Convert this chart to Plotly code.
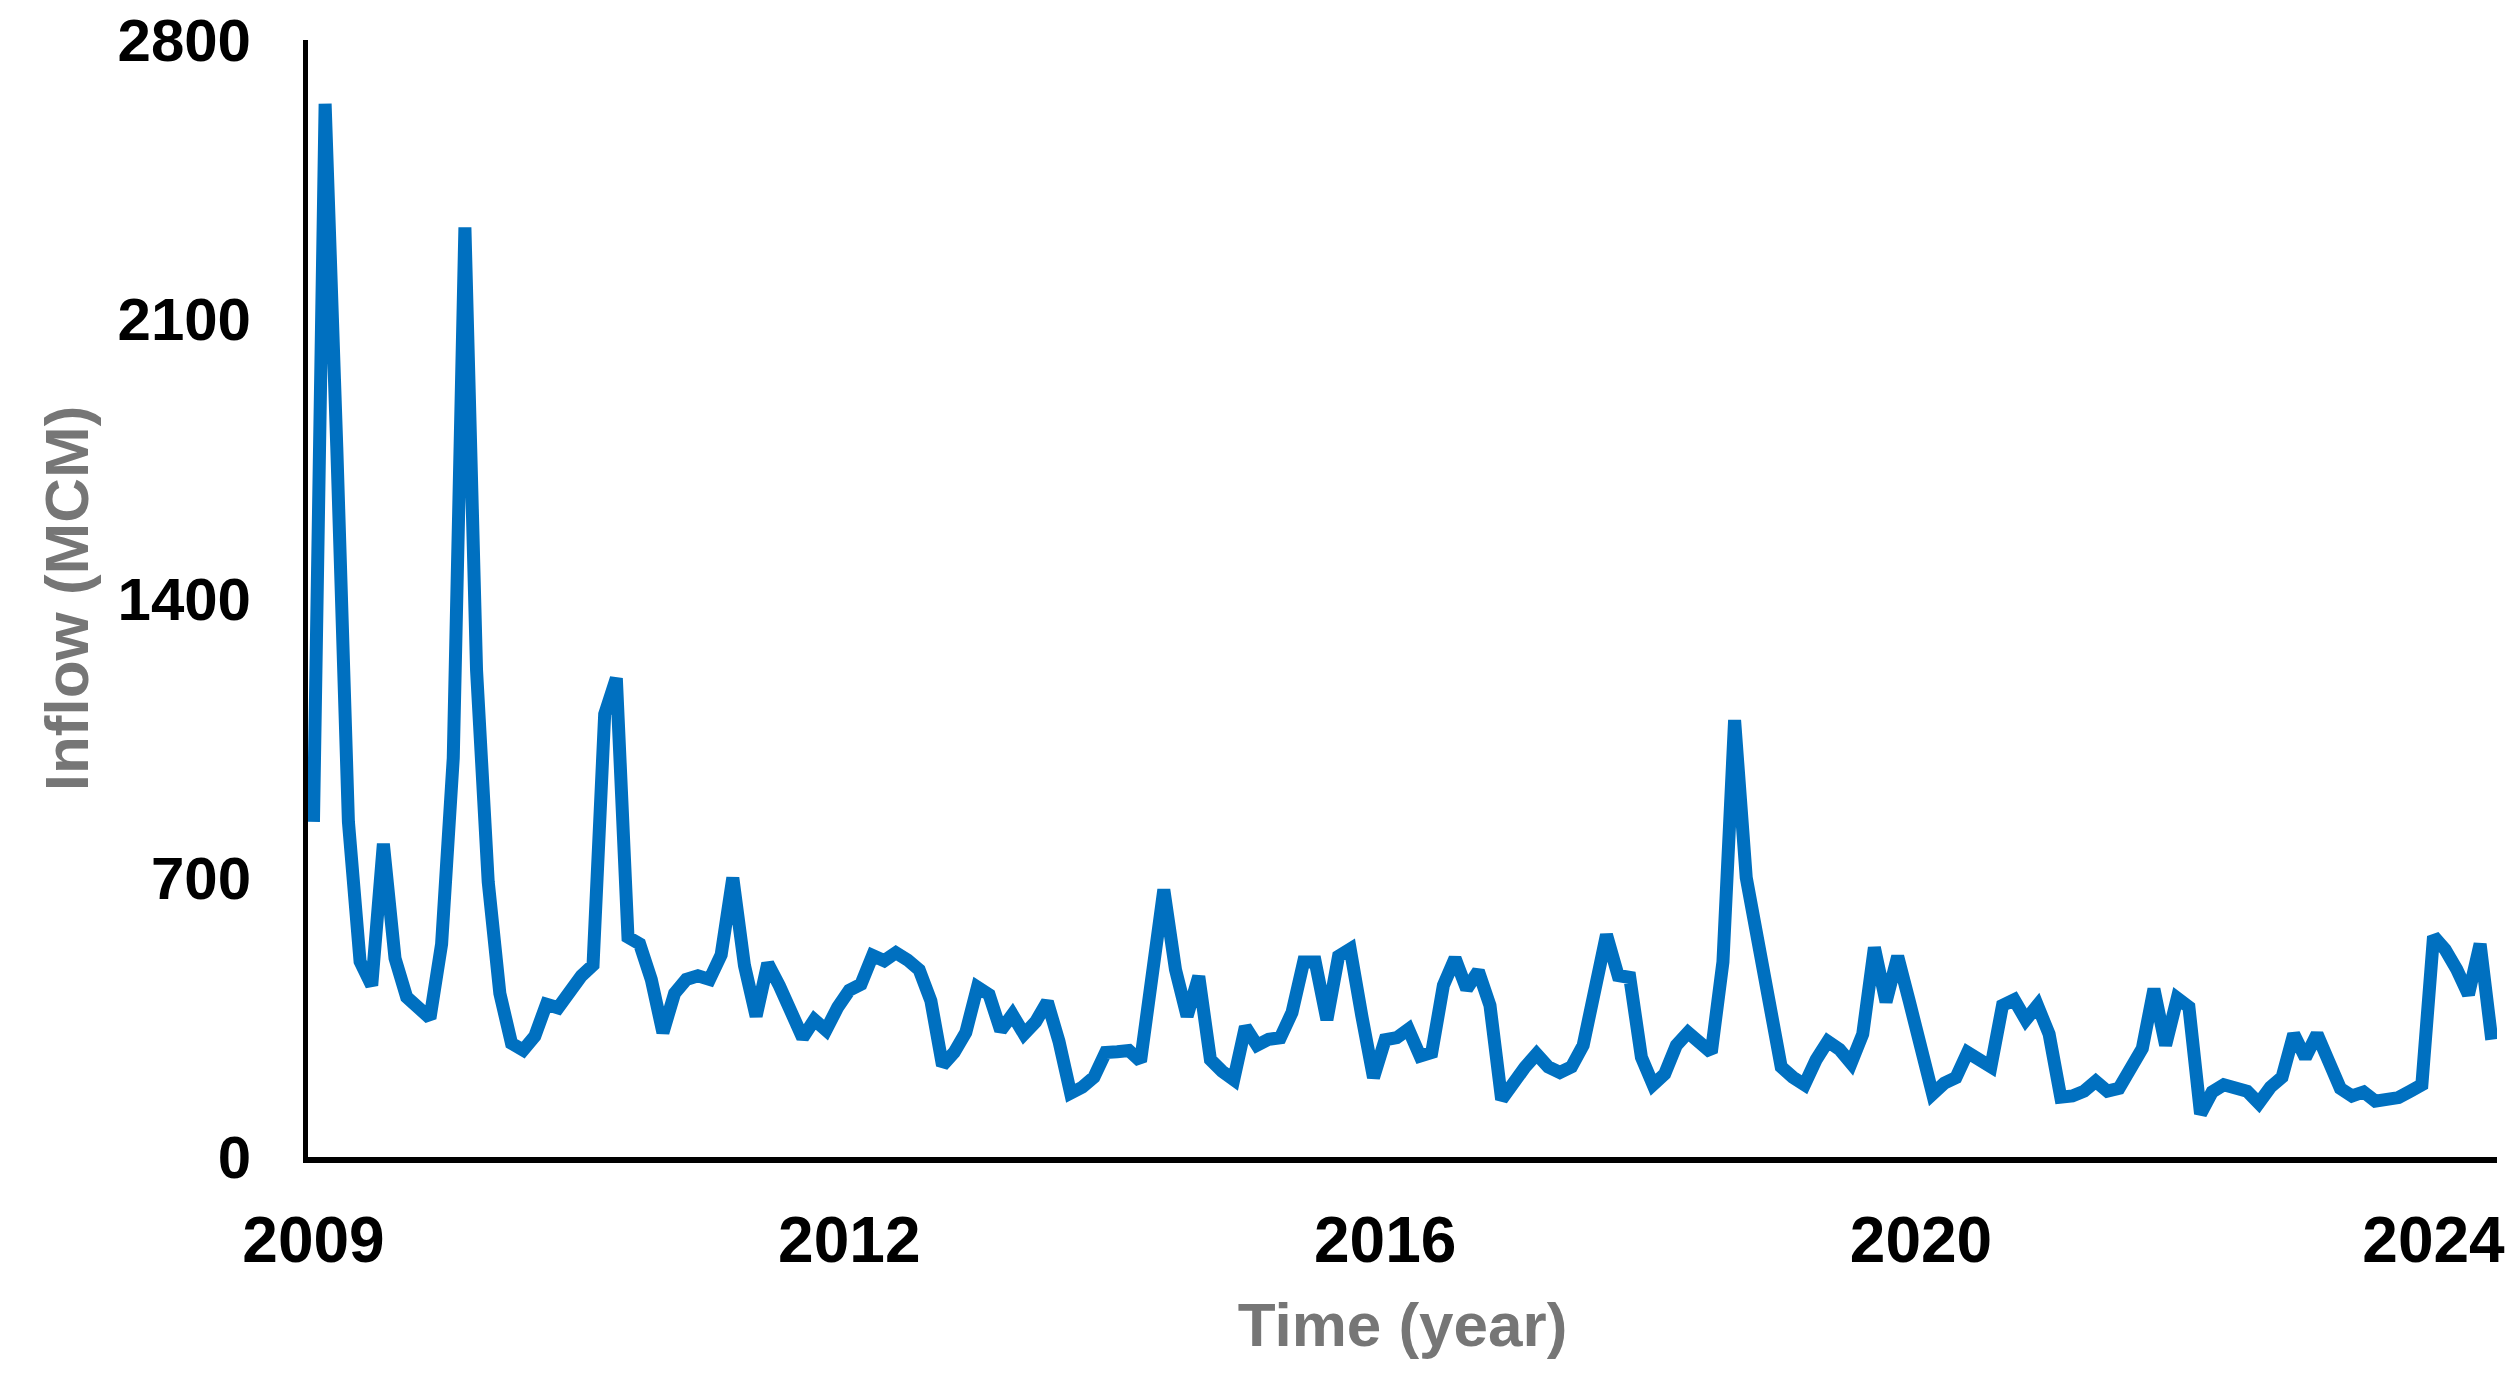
import plotly.graph_objects as go

# monthly inflow readings (MCM), one per month, first label 2009
inflow = [
    840, 2640, 1780, 840, 490, 430, 785, 498, 401, 374,
    348, 534, 1000, 2330, 1220, 690, 410, 285, 268, 303,
    383, 374, 419, 454, 481, 1110, 1200, 551, 534, 445,
    312, 410, 445, 454, 445, 507, 700, 480, 353, 485,
    429, 368, 299, 344, 318, 375, 418, 433, 505, 492,
    512, 494, 469, 392, 230, 262, 312, 426, 407, 317,
    357, 308, 339, 389, 290, 160, 175, 200, 262, 264,
    267, 240, 455, 670, 470, 353, 453, 244, 215, 194,
    326, 280, 295, 299, 362, 489, 489, 344, 503, 521,
    353, 199, 294, 299, 320, 253, 262, 430, 498, 421,
    466, 380, 144, 190, 225, 258, 226, 212, 226, 280,
    420, 557, 455, 450, 250, 181, 208, 280, 312, 290,
    262, 489, 1095, 700, 550, 400, 226, 200, 181, 244,
    290, 270, 235, 308, 525, 389, 503, 390, 270, 158,
    185, 199, 262, 245, 226, 380, 394, 344, 380, 308,
    150, 153, 165, 190, 165, 172, 226, 272, 421, 280,
    398, 376, 108, 163, 181, 175, 165, 135, 175, 200,
    308, 249, 308, 240, 172, 153, 163, 140, 145, 149,
    165, 181, 553, 520, 470, 407, 534, 294,
]
month_idx = list(range(len(inflow)))

tick_pos = [0, 46, 92, 138, 182]
tick_text = ["2009", "2012", "2016", "2020", "2024"]
y_ticks = [0, 700, 1400, 2100, 2800]

fnt = "Liberation Sans, Arial, sans-serif"

fig = go.Figure()
fig.add_trace(go.Scatter(x=month_idx, y=inflow, mode="lines",
                         line=dict(color="#0070C0", width=13),
                         showlegend=False, hoverinfo="y"))

# page body adds an 8px margin, so the figure is 8px smaller and shifted
fig.update_layout(
    width=2505, height=1371,
    paper_bgcolor="white", plot_bgcolor="white",
    margin=dict(l=300, r=16, t=32, b=222),
    font=dict(family=fnt, size=64, color="black", weight="bold"),
)

fig.update_xaxes(
    range=[-0.47, 187.45], automargin=False,
    tickmode="array", tickvals=tick_pos, ticktext=tick_text,
    showgrid=False, zeroline=False,
    showline=True, linecolor="black", linewidth=6,
    ticks="", ticklabelstandoff=22, ticklabeloverflow="allow",
    tickfont=dict(family=fnt, size=64, color="black", weight="bold"),
    title=dict(text="Time (year)", standoff=30,
               font=dict(family=fnt, size=62, color="#767676", weight="bold")),
)

fig.update_yaxes(
    range=[0, 2800], automargin=False,
    tickmode="array", tickvals=y_ticks,
    showgrid=False, zeroline=False,
    showline=True, linecolor="black", linewidth=5,
    ticks="", ticklabelstandoff=40, ticklabeloverflow="allow",
    tickfont=dict(family=fnt, size=60, color="black", weight="bold"),
    title=dict(text="Inflow (MCM)", standoff=10,
               font=dict(family=fnt, size=62, color="#767676", weight="bold")),
)

fig.write_html("out.html")
